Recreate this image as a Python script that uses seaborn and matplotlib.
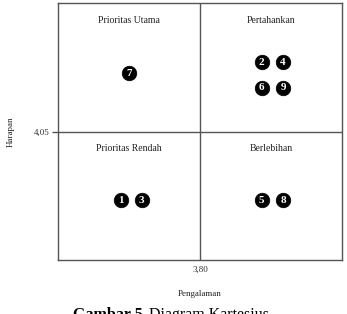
import matplotlib
matplotlib.use("Agg")
import matplotlib.pyplot as plt
import seaborn as sns
import pandas as pd

# Data
labels = ["1", "2", "3", "4", "5", "6", "7", "8", "9"]
pengalaman = [3.689, 3.887, 3.718, 3.917, 3.887, 3.887, 3.700, 3.917, 3.917]
harapan = [3.943, 4.158, 3.943, 4.158, 3.943, 4.118, 4.141, 3.943, 4.118]
x_mid = 3.80
y_mid = 4.05
quadrant_names = ["Prioritas Utama", "Pertahankan", "Prioritas Rendah", "Berlebihan"]
x_tick_labels = ["3,80"]
y_tick_labels = ["4,05"]

df = pd.DataFrame({"label": labels, "x": pengalaman, "y": harapan})

sns.set_theme(style="white")
plt.rcParams["font.family"] = ["Liberation Serif", "DejaVu Serif"]

fig = plt.figure(figsize=(3.47, 3.14), dpi=100)
ax = fig.add_axes([0.167, 0.172, 0.8186, 0.818])

xlim = (3.60, 4.00)
ylim = (3.85, 4.25)
ax.set_xlim(*xlim)
ax.set_ylim(*ylim)

ax.axvline(x_mid, color="#555555", lw=1.0, zorder=1)
ax.axhline(y_mid, color="#555555", lw=1.0, zorder=1)

sns.scatterplot(data=df, x="x", y="y", color="black", s=110, edgecolor="black",
                linewidth=0.5, ax=ax, zorder=3, legend=False)
for lab, xv, yv in zip(labels, pengalaman, harapan):
    ax.text(xv, yv, lab, color="white", fontsize=8, fontweight="bold",
            ha="center", va="center", zorder=4)

# quadrant labels
qx = [(xlim[0] + x_mid) / 2, (x_mid + xlim[1]) / 2]
qy = [ylim[1] - 0.027, y_mid - 0.027]
ax.text(qx[0], qy[0], quadrant_names[0], ha="center", va="center", fontsize=7, color="#222222")
ax.text(qx[1], qy[0], quadrant_names[1], ha="center", va="center", fontsize=7, color="#222222")
ax.text(qx[0], qy[1], quadrant_names[2], ha="center", va="center", fontsize=7, color="#222222")
ax.text(qx[1], qy[1], quadrant_names[3], ha="center", va="center", fontsize=7, color="#222222")

ax.set_xticks([x_mid])
ax.set_xticklabels(x_tick_labels, fontsize=6.5, color="#333333")
ax.set_yticks([y_mid])
ax.set_yticklabels(y_tick_labels, fontsize=6.5, color="#333333")
ax.tick_params(axis="x", length=0, pad=4)
ax.tick_params(axis="y", length=4, width=1.0, color="#555555", pad=2, left=True)

ax.set_xlabel("Pengalaman", fontsize=6.5, color="#222222", labelpad=12)
ax.set_ylabel("Harapan", fontsize=6.5, color="#222222", labelpad=14)

for sp in ax.spines.values():
    sp.set_color("#555555")
    sp.set_linewidth(1.0)
    sp.set_visible(True)

fig.text(0.21, 0.022, "Gambar 5.", fontsize=11.5, fontweight="bold", ha="left", va="top",
         color="black")
fig.text(0.43, 0.022, "Diagram Kartesius", fontsize=11.5, ha="left", va="top", color="black")

fig.savefig("out.png", dpi=100)
